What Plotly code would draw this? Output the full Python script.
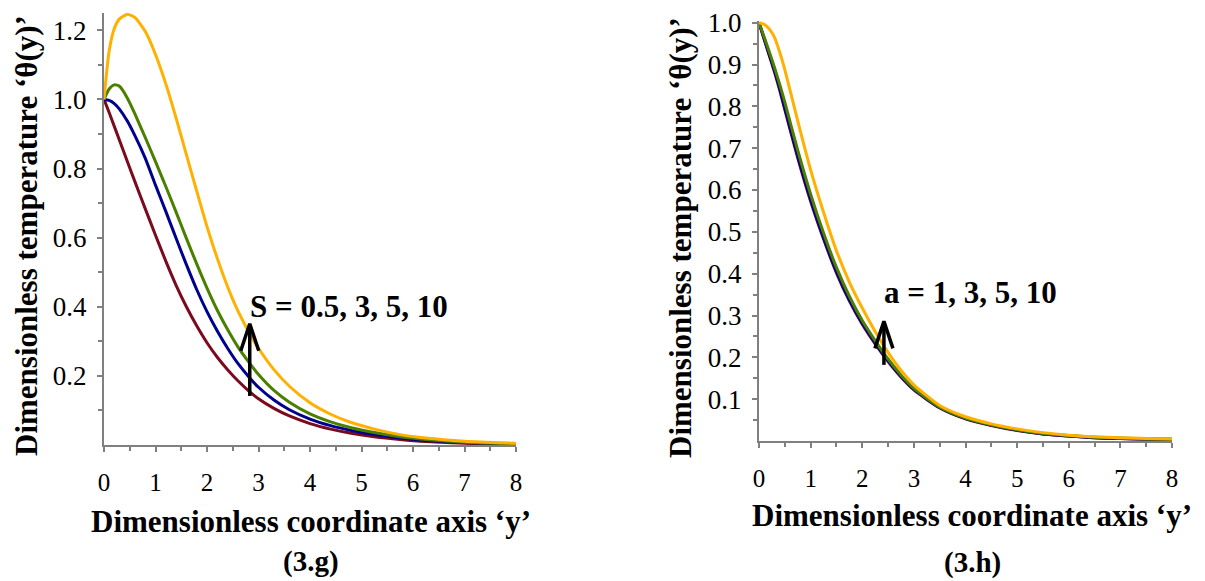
import plotly.graph_objects as go

# ---------------- data ----------------
# Panel (3.g): effect of S
x_g = [0, 0.1, 0.2, 0.3, 0.45, 0.6, 0.8, 1.0, 1.2, 1.4, 1.6, 1.8, 2.0, 2.2, 2.4,
       2.6, 2.83, 3.0, 3.3, 3.6, 4.0, 4.4, 4.8, 5.25, 5.75, 6.25, 7.0, 8.0]
theta_S05 = [1.0, 0.962, 0.922, 0.882, 0.822, 0.762, 0.684, 0.607, 0.532, 0.462,
             0.400, 0.345, 0.296, 0.254, 0.218, 0.186, 0.154, 0.134, 0.106, 0.084,
             0.062, 0.046, 0.034, 0.024, 0.016, 0.010, 0.005, 0.002]
theta_S3 = [1.0, 0.997, 0.988, 0.972, 0.938, 0.895, 0.83, 0.752, 0.676, 0.598,
            0.522, 0.45, 0.386, 0.33, 0.28, 0.236, 0.194, 0.167, 0.13, 0.102,
            0.075, 0.056, 0.042, 0.030, 0.020, 0.013, 0.007, 0.003]
theta_S5 = [1.0, 1.03, 1.042, 1.038, 1.005, 0.958, 0.89, 0.82, 0.748, 0.674,
            0.598, 0.524, 0.454, 0.39, 0.334, 0.284, 0.236, 0.204, 0.158, 0.124,
            0.09, 0.067, 0.05, 0.036, 0.024, 0.016, 0.008, 0.003]
theta_S10 = [1.0, 1.14, 1.205, 1.233, 1.246, 1.237, 1.197, 1.13, 1.045, 0.946,
             0.84, 0.735, 0.632, 0.54, 0.458, 0.388, 0.322, 0.28, 0.218, 0.17,
             0.122, 0.089, 0.065, 0.046, 0.030, 0.020, 0.011, 0.005]

# Panel (3.h): effect of a
x_h = [0, 0.1, 0.2, 0.3, 0.4, 0.5, 0.75, 1.0, 1.25, 1.5, 1.75, 2.0, 2.25, 2.5,
       2.75, 3.0, 3.5, 4.0, 4.5, 5.0, 5.5, 6.0, 6.5, 7.0, 7.5, 8.0]
theta_a1 = [1.0, 0.96, 0.921, 0.882, 0.839, 0.792, 0.677, 0.573, 0.483, 0.402,
            0.335, 0.279, 0.232, 0.19, 0.153, 0.122, 0.079, 0.053, 0.037, 0.025,
            0.017, 0.012, 0.008, 0.006, 0.004, 0.003]
theta_a3 = [1.0, 0.962, 0.924, 0.886, 0.844, 0.797, 0.682, 0.578, 0.487, 0.406,
            0.338, 0.282, 0.235, 0.192, 0.155, 0.124, 0.08, 0.054, 0.038, 0.026,
            0.017, 0.012, 0.008, 0.006, 0.005, 0.004]
theta_a5 = [1.0, 0.966, 0.93, 0.893, 0.853, 0.81, 0.695, 0.59, 0.497, 0.415,
            0.346, 0.288, 0.24, 0.196, 0.158, 0.126, 0.081, 0.055, 0.039, 0.027,
            0.018, 0.013, 0.009, 0.007, 0.005, 0.004]
theta_a10 = [1.0, 0.996, 0.985, 0.965, 0.93, 0.888, 0.765, 0.648, 0.547, 0.455,
             0.38, 0.318, 0.262, 0.212, 0.169, 0.134, 0.085, 0.058, 0.041, 0.029,
             0.020, 0.014, 0.010, 0.008, 0.006, 0.005]

x_ticks = [0, 1, 2, 3, 4, 5, 6, 7, 8]
x_minor = [0.5, 1.5, 2.5, 3.5, 4.5, 5.5, 6.5, 7.5]
y_ticks_g = [0.2, 0.4, 0.6, 0.8, 1.0, 1.2]
y_minor_g = [0.1, 0.3, 0.5, 0.7, 0.9, 1.1]
y_ticks_h = [0.1, 0.2, 0.3, 0.4, 0.5, 0.6, 0.7, 0.8, 0.9, 1.0]
y_minor_h = [0.05, 0.15, 0.25, 0.35, 0.45, 0.55, 0.65, 0.75, 0.85, 0.95]

label_S = "S = 0.5, 3, 5, 10"
label_a = "a = 1, 3, 5, 10"
arrow_S = dict(x=2.83, y_tail=0.142, y_head=0.351)
arrow_a = dict(x=2.42, y_tail=0.182, y_head=0.286)

# ---------------- styling ----------------
W, H = 1205, 581
COLORS = ["#7a0a1e", "#00008f", "#4a7f00", "#ffb000"]
FONT = "Liberation Serif"
AXC = "#808080"

# plot areas in pixels: (left, right, bottom, top)
G_BOX = (104, 516, 445, 13)
H_BOX = (759, 1172, 441, 21)
G_YR = [0, 1.25]
H_YR = [0, 1.004]

fig = go.Figure()
for ys, c in zip([theta_S05, theta_S3, theta_S5, theta_S10], COLORS):
    fig.add_trace(go.Scatter(x=x_g, y=ys, mode="lines", xaxis="x", yaxis="y",
                             line=dict(color=c, width=3, shape="spline", smoothing=0.6),
                             showlegend=False, hoverinfo="skip"))
for ys, c in zip([theta_a1, theta_a3, theta_a5, theta_a10], COLORS):
    fig.add_trace(go.Scatter(x=x_h, y=ys, mode="lines", xaxis="x2", yaxis="y2",
                             line=dict(color=c, width=3, shape="spline", smoothing=0.6),
                             showlegend=False, hoverinfo="skip"))


def add_arrow(arr, box, yr, xa, ya):
    # chevron arms: 9 px half-width, 27 px long
    xu = 8.0 / (box[1] - box[0])
    yu = (yr[1] - yr[0]) / (box[2] - box[3])
    dx = 9 * xu
    dy = 27 * yu
    x0 = arr["x"]
    fig.add_trace(go.Scatter(x=[x0, x0], y=[arr["y_tail"], arr["y_head"] - 2 * yu],
                             mode="lines", xaxis=xa, yaxis=ya,
                             line=dict(color="black", width=3.5),
                             showlegend=False, hoverinfo="skip"))
    fig.add_trace(go.Scatter(x=[x0 - dx, x0, x0 + dx],
                             y=[arr["y_head"] - dy, arr["y_head"], arr["y_head"] - dy],
                             mode="lines", xaxis=xa, yaxis=ya,
                             line=dict(color="black", width=3.5),
                             showlegend=False, hoverinfo="skip"))


add_arrow(arrow_S, G_BOX, G_YR, "x", "y")
add_arrow(arrow_a, H_BOX, H_YR, "x2", "y2")

xtickfont = dict(family=FONT, size=25, color="black")
ytickfont = dict(family=FONT, size=27, color="black")


def xax(box, anchor):
    return dict(domain=[box[0] / W, box[1] / W], range=[0, 8], anchor=anchor,
                showline=True, automargin=False,
                linecolor=AXC, linewidth=2, ticks="outside", ticklen=5,
                tickwidth=1.5, tickcolor=AXC, tickmode="array", tickvals=x_ticks,
                ticktext=[str(v) for v in x_ticks], tickfont=xtickfont,
                minor=dict(tickmode="array", tickvals=x_minor, ticks="outside",
                           ticklen=4, tickwidth=1.5, tickcolor=AXC),
                showgrid=False, zeroline=False, ticklabelstandoff=9, fixedrange=True)


def yax(box, anchor, rng, tv, mv):
    return dict(domain=[1 - box[2] / H, 1 - box[3] / H], range=rng, anchor=anchor,
                showline=True, automargin=False,
                linecolor=AXC, linewidth=2, ticks="outside", ticklen=5,
                tickwidth=1.5, tickcolor=AXC, tickmode="array", tickvals=tv,
                ticktext=["%.1f" % v for v in tv], tickfont=ytickfont,
                minor=dict(tickmode="array", tickvals=mv, ticks="outside",
                           ticklen=4, tickwidth=1.5, tickcolor=AXC),
                showgrid=False, zeroline=False, ticklabelstandoff=5, fixedrange=True)


fig.update_layout(
    width=W, height=H, autosize=False,
    margin=dict(l=0, r=0, t=0, b=0, pad=0),
    paper_bgcolor="white", plot_bgcolor="white",
    xaxis=xax(G_BOX, "y"),
    yaxis=yax(G_BOX, "x", G_YR, y_ticks_g, y_minor_g),
    xaxis2=xax(H_BOX, "y2"),
    yaxis2=yax(H_BOX, "x2", H_YR, y_ticks_h, y_minor_h),
)

tfont = dict(family=FONT, size=31, color="black", weight="bold")
sfont = dict(family=FONT, size=29, color="black", weight="bold")
afont = dict(family=FONT, size=31, color="black", weight="bold")
ann = []
ytitle = "Dimensionless temperature \u2018\u03b8(y)\u2019"
xtitle = "Dimensionless coordinate axis \u2018y\u2019"
ann.append(dict(text=ytitle, xref="paper", yref="paper", x=26 / W, y=1 - 236 / H,
                textangle=-90, showarrow=False, font=tfont,
                xanchor="center", yanchor="middle"))
ann.append(dict(text=ytitle, xref="paper", yref="paper", x=680 / W, y=1 - 238 / H,
                textangle=-90, showarrow=False, font=tfont,
                xanchor="center", yanchor="middle"))
ann.append(dict(text=xtitle, xref="paper", yref="paper", x=311 / W, y=1 - 521 / H,
                showarrow=False, font=tfont, xanchor="center", yanchor="middle"))
ann.append(dict(text=xtitle, xref="paper", yref="paper", x=972 / W, y=1 - 515 / H,
                showarrow=False, font=tfont, xanchor="center", yanchor="middle"))
ann.append(dict(text="(3.g)", xref="paper", yref="paper", x=311 / W, y=1 - 561 / H,
                showarrow=False, font=sfont, xanchor="center", yanchor="middle"))
ann.append(dict(text="(3.h)", xref="paper", yref="paper", x=972 / W, y=1 - 562 / H,
                showarrow=False, font=sfont, xanchor="center", yanchor="middle"))

# in-plot labels
ann.append(dict(text=label_S, xref="x", yref="y", x=2.79, y=0.40, showarrow=False,
                font=afont, xanchor="left", yanchor="middle"))
ann.append(dict(text=label_a, xref="x2", yref="y2", x=2.39, y=0.355, showarrow=False,
                font=afont, xanchor="left", yanchor="middle"))
fig.update_layout(annotations=ann)

fig.write_html("out.html", config={"displayModeBar": False},
               post_script="document.body.style.margin='0';document.body.style.padding='0';")
